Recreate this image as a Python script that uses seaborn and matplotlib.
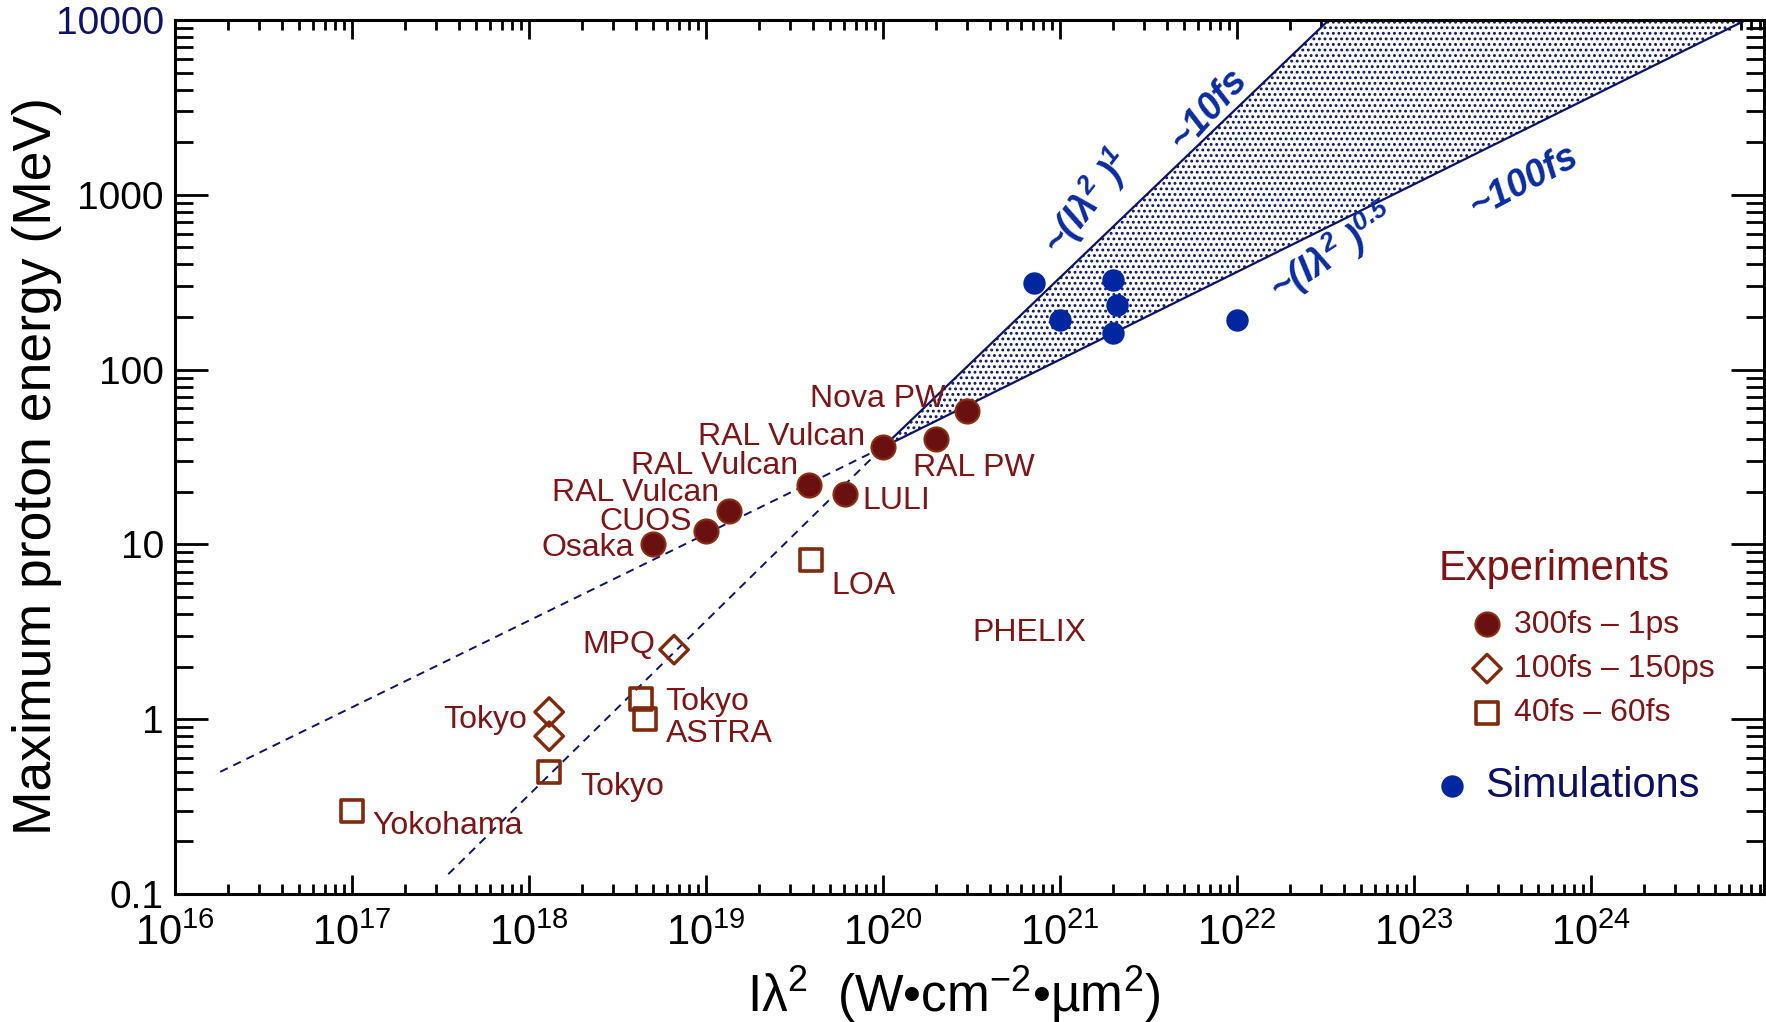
import numpy as np
import matplotlib
matplotlib.use("Agg")
import matplotlib.pyplot as plt
import seaborn as sns
from matplotlib.ticker import LogLocator, NullFormatter

# experiments 300fs - 1ps (filled circles)
long_x = [5.0e18, 1.0e19, 1.35e19, 3.8e19, 1.0e20, 6.1e19, 2.0e20, 3.0e20]
long_y = [10, 12, 15.5, 22, 36, 19.5, 40, 58]

# experiments 100fs - 150ps (diamonds)
mid_x = [6.6e18, 1.3e18, 1.3e18]
mid_y = [2.5, 1.1, 0.8]

# experiments 40fs - 60fs (squares)
short_x = [3.9e19, 4.3e18, 4.5e18, 1.3e18, 1.0e17]
short_y = [8.1, 1.3, 1.0, 0.5, 0.3]

# simulations
sim_x = [7.1e20, 1.0e21, 2.0e21, 2.1e21, 2.0e21, 1.0e22]
sim_y = [315, 193, 327, 235, 161, 193]

# facility names
label_text = ["Nova PW", "RAL Vulcan", "RAL Vulcan", "RAL Vulcan", "CUOS", "Osaka", "MPQ", "Tokyo",
              "LULI", "RAL PW", "LOA", "PHELIX", "Tokyo", "ASTRA", "Tokyo", "Yokohama"]
label_x = [2.26e20, 7.9e19, 3.3e19, 1.19e19, 8.3e18, 3.9e18, 5.2e18, 9.8e17,
           7.6e19, 1.48e20, 5.1e19, 3.2e20, 5.9e18, 5.9e18, 1.96e18, 1.3e17]
label_y = [68, 41, 28, 19.8, 13.4, 9.5, 2.67, 0.99,
           17.8, 27.5, 5.75, 3.1, 1.25, 0.82, 0.41, 0.245]
label_ha = ["right"] * 8 + ["left"] * 8

# scaling lines
fit_half_x = [1.8e16, 1.0e20]
fit_half_y = [0.5, 36]
fit_one_x = [3.5e17, 1.0e20]
fit_one_y = [0.13, 36]
edge_one_x = [1.0e20, 3.3e22]
edge_one_y = [36, 1.0e4]
edge_half_x = [1.0e20, 7.5e24]
edge_half_y = [36, 1.0e4]
band_x = [1.0e20, 3.3e22, 7.5e24]
band_y = [36, 1.0e4, 1.0e4]

xticks = [1e16, 1e17, 1e18, 1e19, 1e20, 1e21, 1e22, 1e23, 1e24]
xtick_labels = ["$10^{%d}$" % k for k in range(16, 25)]
yticks = [0.1, 1, 10, 100, 1000, 10000]
ytick_labels = ["0.1", "1", "10", "100", "1000", "10000"]

red_text = "#7d1416"
red_fill = "#6b1010"
red_edge = "#8a3010"
brown = "#7f2a0c"
blue = "#0026a0"
navy = "#0d1466"

sns.set_theme(style="ticks")
plt.rcParams["font.family"] = ["Liberation Sans", "DejaVu Sans"]
plt.rcParams["mathtext.fontset"] = "custom"
plt.rcParams["mathtext.rm"] = "Liberation Sans"
plt.rcParams["mathtext.it"] = "Liberation Sans:italic"
plt.rcParams["mathtext.bf"] = "Liberation Sans:bold"
plt.rcParams["mathtext.bfit"] = "Liberation Sans:italic:bold"
plt.rcParams["mathtext.default"] = "regular"
plt.rcParams["hatch.linewidth"] = 1.3
plt.rcParams["lines.scale_dashes"] = False

fig = plt.figure(figsize=(17.66, 10.22), dpi=100)
ax = fig.add_axes([0.0991, 0.1252, 0.8998, 0.8552])
ax.set_xscale("log")
ax.set_yscale("log")

# shaded band between the two scalings
ax.fill(band_x, band_y, facecolor="white", edgecolor=navy, hatch="...", linewidth=0, zorder=1)
ax.plot(edge_one_x, edge_one_y, color=navy, lw=1.6, zorder=2)
ax.plot(edge_half_x, edge_half_y, color=navy, lw=1.6, zorder=2)
ax.plot(fit_half_x, fit_half_y, color=navy, lw=1.4, ls=(0, (6, 4.5)), zorder=2)
ax.plot(fit_one_x, fit_one_y, color=navy, lw=1.4, ls=(0, (6, 4.5)), zorder=2)

sns.scatterplot(x=long_x, y=long_y, ax=ax, s=300, color=red_fill, edgecolor=red_edge,
                linewidth=1.5, label="300fs \u2013 1ps", zorder=5)
sns.scatterplot(x=mid_x, y=mid_y, ax=ax, marker="D", s=210, facecolor="none", edgecolor=brown,
                linewidth=2.4, label="100fs \u2013 150ps", zorder=5)
sns.scatterplot(x=short_x, y=short_y, ax=ax, marker="s", s=250, facecolor="none", edgecolor=brown,
                linewidth=2.6, label="40fs \u2013 60fs", zorder=5)
sns.scatterplot(x=sim_x, y=sim_y, ax=ax, s=260, color=blue, linewidth=0,
                label="Simulations", zorder=5)

for t, x, y, ha in zip(label_text, label_x, label_y, label_ha):
    ax.text(x, y, t, ha=ha, va="center", fontsize=23, color=red_text, zorder=6)

# scaling annotations
ann = dict(color="#0a2ca0", fontsize=27, fontweight="bold", style="italic",
           ha="center", va="center", rotation_mode="anchor", zorder=6)
ax.text(1.43e21, 900, r"~(I$\mathbfit{\lambda^{2}}$ )$^{\mathbfit{1}}$", rotation=52, **ann)
ax.text(6.9e21, 3100, "~10fs", rotation=48, **ann)
ax.text(3.5e22, 467, r"~(I$\mathbfit{\lambda^{2}}$ )$^{\mathbfit{0.5}}$", rotation=33, **ann)
ax.text(4.2e23, 1190, "~100fs", rotation=28, **ann)

ax.set_xlim(1e16, 9.5e24)
ax.set_ylim(0.1, 10000)
ax.set_xticks(xticks, labels=xtick_labels)
ax.set_yticks(yticks, labels=ytick_labels)
ax.xaxis.set_minor_locator(LogLocator(base=10, subs=np.arange(2, 10), numticks=100))
ax.yaxis.set_minor_locator(LogLocator(base=10, subs=np.arange(2, 10), numticks=100))
ax.xaxis.set_minor_formatter(NullFormatter())
ax.yaxis.set_minor_formatter(NullFormatter())

ax.tick_params(axis="both", which="both", direction="in", top=True, right=True, width=2,
               color="black", labelcolor="black")
ax.tick_params(axis="x", which="major", length=14, labelsize=30, pad=14)
ax.tick_params(axis="x", which="minor", length=7)
ax.tick_params(axis="y", which="major", length=24, labelsize=28, pad=8)
ax.tick_params(axis="y", which="minor", length=13)
ax.get_yticklabels()[-1].set_color(navy)
for sp in ax.spines.values():
    sp.set_linewidth(2.2)
    sp.set_color("black")

ax.set_ylabel("Maximum proton energy (MeV)", fontsize=38.5, color="black")
ax.yaxis.set_label_coords(-0.071, 0.49)
ax.set_xlabel("I$\\lambda^{2}$  (W\u2022cm$^{-2}$\u2022\u00b5m$^{2}$)", fontsize=37, color="black")
ax.xaxis.set_label_coords(0.49, -0.08)

# legend
handles, labels = ax.get_legend_handles_labels()
ax.text(0.795, 0.372, "Experiments", transform=ax.transAxes, ha="left", va="center",
        fontsize=30, color=red_text)
leg1 = ax.legend(handles[:3], labels[:3], loc="center left", bbox_to_anchor=(0.8156, 0.2575),
                 frameon=False, fontsize=23, labelcolor=red_text, handlelength=1.0,
                 handletextpad=0.35, borderpad=0, borderaxespad=0, labelspacing=0.45)
ax.add_artist(leg1)
ax.legend(handles[3:], labels[3:], loc="center left", bbox_to_anchor=(0.7904, 0.124),
          frameon=False, fontsize=30, labelcolor="#0c0f62", handlelength=1.0,
          handletextpad=0.3, borderpad=0, borderaxespad=0)

fig.savefig("out.png", dpi=100)
